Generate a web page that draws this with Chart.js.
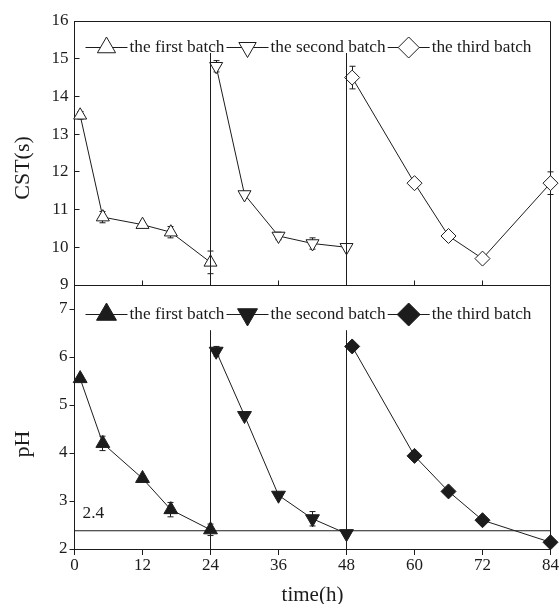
<!DOCTYPE html>
<html><head><meta charset="utf-8">
<script src="https://cdn.jsdelivr.net/npm/chart.js@4/dist/chart.umd.min.js"></script>
<style>html,body{margin:0;padding:0;background:#fff}#c{display:block}</style>
</head><body>
<canvas id="c" width="560" height="604"></canvas>
<script>
// ---- data ----
const batchNames = ['the first batch', 'the second batch', 'the third batch'];
const timeTicks = [0, 12, 24, 36, 48, 60, 72, 84];
const time1 = [1, 5, 12, 17, 24];
const time2 = [25, 30, 36, 42, 48];
const time3 = [49, 60, 66, 72, 84];
const cst1 = [13.5, 10.8, 10.6, 10.4, 9.6];
const cst2 = [14.8, 11.4, 10.3, 10.1, 10.0];
const cst3 = [14.5, 11.7, 10.3, 9.7, 11.7];
const cstErr1 = [0.1, 0.15, 0.05, 0.15, 0.3];
const cstErr2 = [0.15, 0.05, 0.1, 0.15, 0.05];
const cstErr3 = [0.3, 0.1, 0, 0, 0.3];
const ph1 = [5.55, 4.2, 3.47, 2.82, 2.4];
const ph2 = [6.12, 4.78, 3.12, 2.63, 2.32];
const ph3 = [6.22, 3.94, 3.2, 2.6, 2.14];
const phErr1 = [0.05, 0.15, 0.05, 0.15, 0.12];
const phErr2 = [0.1, 0.05, 0.05, 0.15, 0.05];
const phErr3 = [0, 0, 0, 0, 0];
const cstTicks = [9, 10, 11, 12, 13, 14, 15, 16];
const phTicks = [2, 3, 4, 5, 6, 7];
const cstRange = [9, 16];
const phRange = [2, 7.5];
const batchStarts = [24, 48];
const cstSepTop = 15.15;
const phSepTop = 6.55;
const phLimit = 2.38;
const phLimitLabel = '2.4';
const cstTitle = 'CST(s)';
const phTitle = 'pH';
const timeTitle = 'time(h)';

// ---- styling ----
const ink = '#1c1c1c';
const FAM = '"Liberation Serif", "DejaVu Serif", serif';
const pts = (xs, ys) => xs.map((x, i) => ({x: x, y: ys[i]}));

function series(label, xs, ys, errs, axis, style, rot, r, fill, legR) {
  return {label: label, data: pts(xs, ys), yAxisID: axis, errors: errs,
    pointStyle: style, pointRotation: rot, pointRadius: r, pointHoverRadius: r,
    pointBackgroundColor: fill, pointBorderColor: ink, pointBorderWidth: 1,
    borderColor: ink, borderWidth: 1, tension: 0, clip: false, fill: false,
    legendR: legR, legendFill: fill};
}
function rule(xs, ys, axis) {
  return {data: pts(xs, ys), yAxisID: axis, pointRadius: 0, borderColor: ink,
    borderWidth: 1, tension: 0, fill: false, isRule: true};
}

const datasets = [];
batchStarts.forEach(t => {
  datasets.push(rule([t, t], [cstSepTop, cstRange[0]], 'yCST'));
  datasets.push(rule([t, t], [phSepTop, phRange[0]], 'yPH'));
});
datasets.push(rule([timeTicks[0], timeTicks[timeTicks.length - 1]], [phLimit, phLimit], 'yPH'));
datasets.push(series(batchNames[0], time1, cst1, cstErr1, 'yCST', 'triangle', 0, 7.5, '#fff', 10.5));
datasets.push(series(batchNames[1], time2, cst2, cstErr2, 'yCST', 'triangle', 180, 7.5, '#fff', 10));
datasets.push(series(batchNames[2], time3, cst3, cstErr3, 'yCST', 'rectRot', 0, 7.5, '#fff', 10.5));
datasets.push(series(batchNames[0], time1, ph1, phErr1, 'yPH', 'triangle', 0, 8, ink, 11.5));
datasets.push(series(batchNames[1], time2, ph2, phErr2, 'yPH', 'triangle', 180, 8, ink, 11.5));
datasets.push(series(batchNames[2], time3, ph3, phErr3, 'yPH', 'rectRot', 0, 7.5, ink, 11.5));

function marker(ctx, style, rot, r, x, y, fill) {
  ctx.save();
  ctx.translate(x, y);
  ctx.rotate(rot * Math.PI / 180);
  ctx.beginPath();
  if (style === 'triangle') {
    for (let k = 0; k < 3; k++) {
      const a = k * 2 * Math.PI / 3;
      const px = Math.sin(a) * r, py = -Math.cos(a) * r;
      if (k === 0) ctx.moveTo(px, py); else ctx.lineTo(px, py);
    }
  } else {
    ctx.moveTo(0, -r); ctx.lineTo(r, 0); ctx.lineTo(0, r); ctx.lineTo(-r, 0);
  }
  ctx.closePath();
  ctx.fillStyle = fill; ctx.strokeStyle = ink; ctx.lineWidth = 1;
  ctx.fill(); ctx.stroke();
  ctx.restore();
}

const half = v => Math.floor(v) + 0.5;

const decor = {
  id: 'decor',
  beforeDatasetsDraw(chart) {
    const ctx = chart.ctx, a = chart.chartArea;
    const xs = chart.scales.x, yC = chart.scales.yCST;
    ctx.save();
    ctx.strokeStyle = ink; ctx.lineWidth = 1;
    ctx.beginPath();
    const L = half(a.left), R = half(a.right);
    const T = half(a.top), B = half(a.bottom);
    const M = half(yC.bottom);
    ctx.moveTo(L, T); ctx.lineTo(R, T); ctx.lineTo(R, B);
    ctx.moveTo(L, M); ctx.lineTo(R, M);
    // inward ticks of the upper panel
    yC.ticks.forEach(tk => {
      const y = half(yC.getPixelForValue(tk.value));
      ctx.moveTo(L, y); ctx.lineTo(L + 5, y);
    });
    xs.ticks.forEach(tk => {
      const x = half(xs.getPixelForValue(tk.value));
      ctx.moveTo(x, M); ctx.lineTo(x, M - 5);
    });
    ctx.stroke();
    // error bars
    chart.data.datasets.forEach(ds => {
      if (!ds.errors) return;
      const ys = chart.scales[ds.yAxisID];
      ctx.beginPath();
      ds.data.forEach((p, j) => {
        const e = ds.errors[j];
        if (!e) return;
        const px = half(xs.getPixelForValue(p.x));
        const y1 = ys.getPixelForValue(p.y + e), y2 = ys.getPixelForValue(p.y - e);
        ctx.moveTo(px, y1); ctx.lineTo(px, y2);
        ctx.moveTo(px - 3, y1); ctx.lineTo(px + 3, y1);
        ctx.moveTo(px - 3, y2); ctx.lineTo(px + 3, y2);
      });
      ctx.stroke();
    });
    ctx.restore();
  },
  afterDatasetsDraw(chart) {
    const ctx = chart.ctx, a = chart.chartArea;
    const xs = chart.scales.x;
    ctx.save();
    ctx.font = '17.3px ' + FAM;
    ctx.fillStyle = ink; ctx.strokeStyle = ink; ctx.lineWidth = 1;
    // legends inside each panel
    [['yCST', 26], ['yPH', 29]].forEach(([axis, dy]) => {
      const sc = chart.scales[axis];
      const y = Math.round(sc.top + dy) + 0.5;
      let x = a.left + 11;
      chart.data.datasets.filter(d => d.yAxisID === axis && d.errors).forEach(d => {
        ctx.beginPath(); ctx.moveTo(x, y); ctx.lineTo(x + 42, y); ctx.stroke();
        marker(ctx, d.pointStyle, d.pointRotation, d.legendR, x + 21, y, d.legendFill);
        ctx.fillStyle = ink; ctx.textBaseline = 'middle'; ctx.textAlign = 'left';
        ctx.fillText(d.label, x + 44, y);
        x += 44 + ctx.measureText(d.label).width + 2;
      });
    });
    // 2.4 label
    const yP = chart.scales.yPH;
    ctx.textBaseline = 'alphabetic'; ctx.textAlign = 'left';
    ctx.fillText(phLimitLabel, xs.getPixelForValue(timeTicks[0]) + 8, yP.getPixelForValue(phLimit) - 13);
    // y titles
    ctx.font = '22px ' + FAM;
    ctx.textAlign = 'center'; ctx.textBaseline = 'middle';
    [[chart.scales.yCST, cstTitle, 15], [yP, phTitle, 27]].forEach(([sc, txt, off]) => {
      ctx.save();
      ctx.translate(23, (sc.top + sc.bottom) / 2 + off);
      ctx.rotate(-Math.PI / 2);
      ctx.fillText(txt, 0, 0);
      ctx.restore();
    });
    ctx.restore();
  }
};

const tickFont = {family: FAM, size: 17};
new Chart(document.getElementById('c'), {
  type: 'line',
  data: {datasets: datasets},
  options: {
    responsive: false, animation: false, events: [],
    layout: {padding: {top: 21, right: 9.5, left: 0, bottom: 0}},
    plugins: {legend: {display: false}, tooltip: {enabled: false}},
    scales: {
      x: {
        type: 'linear', min: timeTicks[0], max: timeTicks[timeTicks.length - 1],
        afterBuildTicks: s => { s.ticks = timeTicks.map(v => ({value: v})); },
        ticks: {color: ink, font: tickFont, padding: 0, maxRotation: 0, autoSkip: false},
        grid: {drawOnChartArea: false, tickLength: 6, color: ink},
        border: {color: ink, width: 1},
        title: {display: true, text: timeTitle, color: ink, font: {family: FAM, size: 21, lineHeight: 0.85}, padding: 0},
        afterFit: s => { s.height = 55; }
      },
      yPH: {
        type: 'linear', position: 'left', stack: 'panels', stackWeight: 1,
        min: phRange[0], max: phRange[1],
        afterBuildTicks: s => { s.ticks = phTicks.map(v => ({value: v})); },
        ticks: {autoSkip: false, padding: 2, color: ink, font: tickFont},
        grid: {drawOnChartArea: false, tickLength: 5, color: ink},
        border: {color: ink, width: 1},
        afterFit: s => { s.width = 74.5; }
      },
      yCST: {
        type: 'linear', position: 'left', stack: 'panels', stackWeight: 1,
        min: cstRange[0], max: cstRange[1],
        afterBuildTicks: s => { s.ticks = cstTicks.map(v => ({value: v})); },
        ticks: {autoSkip: false, padding: 6, color: ink, font: tickFont},
        grid: {drawOnChartArea: false, drawTicks: false, color: ink},
        border: {color: ink, width: 1},
        afterFit: s => { s.width = 74.5; }
      }
    }
  },
  plugins: [decor]
});
</script>
</body></html>
